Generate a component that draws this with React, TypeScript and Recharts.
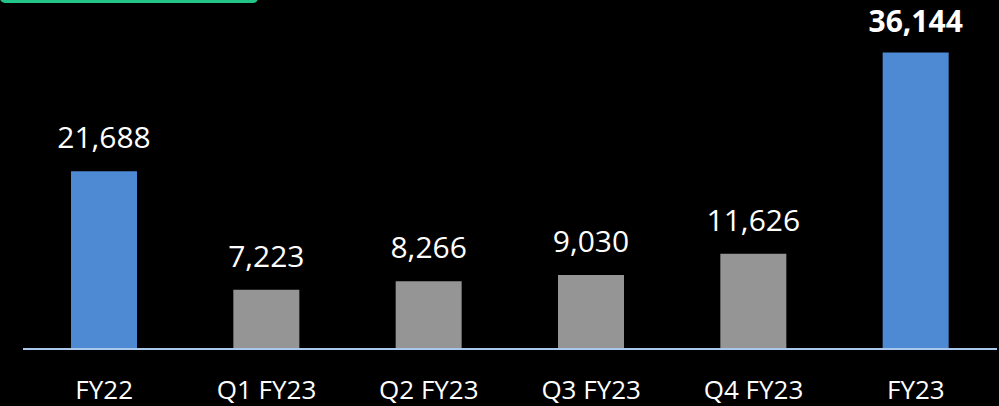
import React from "react";
import {BarChart, Bar, XAxis, YAxis, LabelList, Cell} from "recharts";

const periods = ["FY22", "Q1 FY23", "Q2 FY23", "Q3 FY23", "Q4 FY23", "FY23"];
const revenue = [21688, 7223, 8266, 9030, 11626, 36144];

const chartData = periods.map((p, i) => ({period: p, value: revenue[i]}));

const BLUE = "#4e89d3";
const GRAY = "#959595";
const FONT = "'Open Sans', sans-serif";

const Tick = (props: any) => {
    const {x, y, payload} = props;
    return (
        <text x={x} y={y + 42} textAnchor="middle" fill="#fff" fontSize={26} fontFamily={FONT}>
            {payload.value}
        </text>
    );
};

const ValueLabel = (props: any) => {
    const {x, y, width, value, index} = props;
    const last = index === periods.length - 1;
    return (
        <text x={x + width / 2} y={y - (last ? 21 : 23)} textAnchor="middle" fill="#fff" fontSize={30}
              fontWeight={last ? 700 : 400} fontFamily={FONT}>
            {Number(value).toLocaleString("en-US")}
        </text>
    );
};

export default () => {
    return (
        <div style={{position: "absolute", left: 0, top: 0, width: 999, height: 406, background: "#000", overflow: "hidden"}}>
            <div style={{position: "absolute", left: 0, top: -8, width: 258, height: 11, background: "#22c587", borderRadius: 5}}/>
            <BarChart width={999} height={406} data={chartData}
                      margin={{top: 21, right: 2, left: 23, bottom: 0}}>
                <XAxis dataKey="period" height={57} tickLine={false} tick={<Tick/>}
                       axisLine={{stroke: "#a9c9ec", strokeWidth: 2}} interval={0}/>
                <YAxis hide domain={[0, 40000]}/>
                <Bar dataKey="value" barSize={66} isAnimationActive={false}>
                    {chartData.map((d) => (
                        <Cell key={d.period} fill={d.period.startsWith("FY") ? BLUE : GRAY}/>
                    ))}
                    <LabelList dataKey="value" content={<ValueLabel/>}/>
                </Bar>
            </BarChart>
        </div>
    );
};
